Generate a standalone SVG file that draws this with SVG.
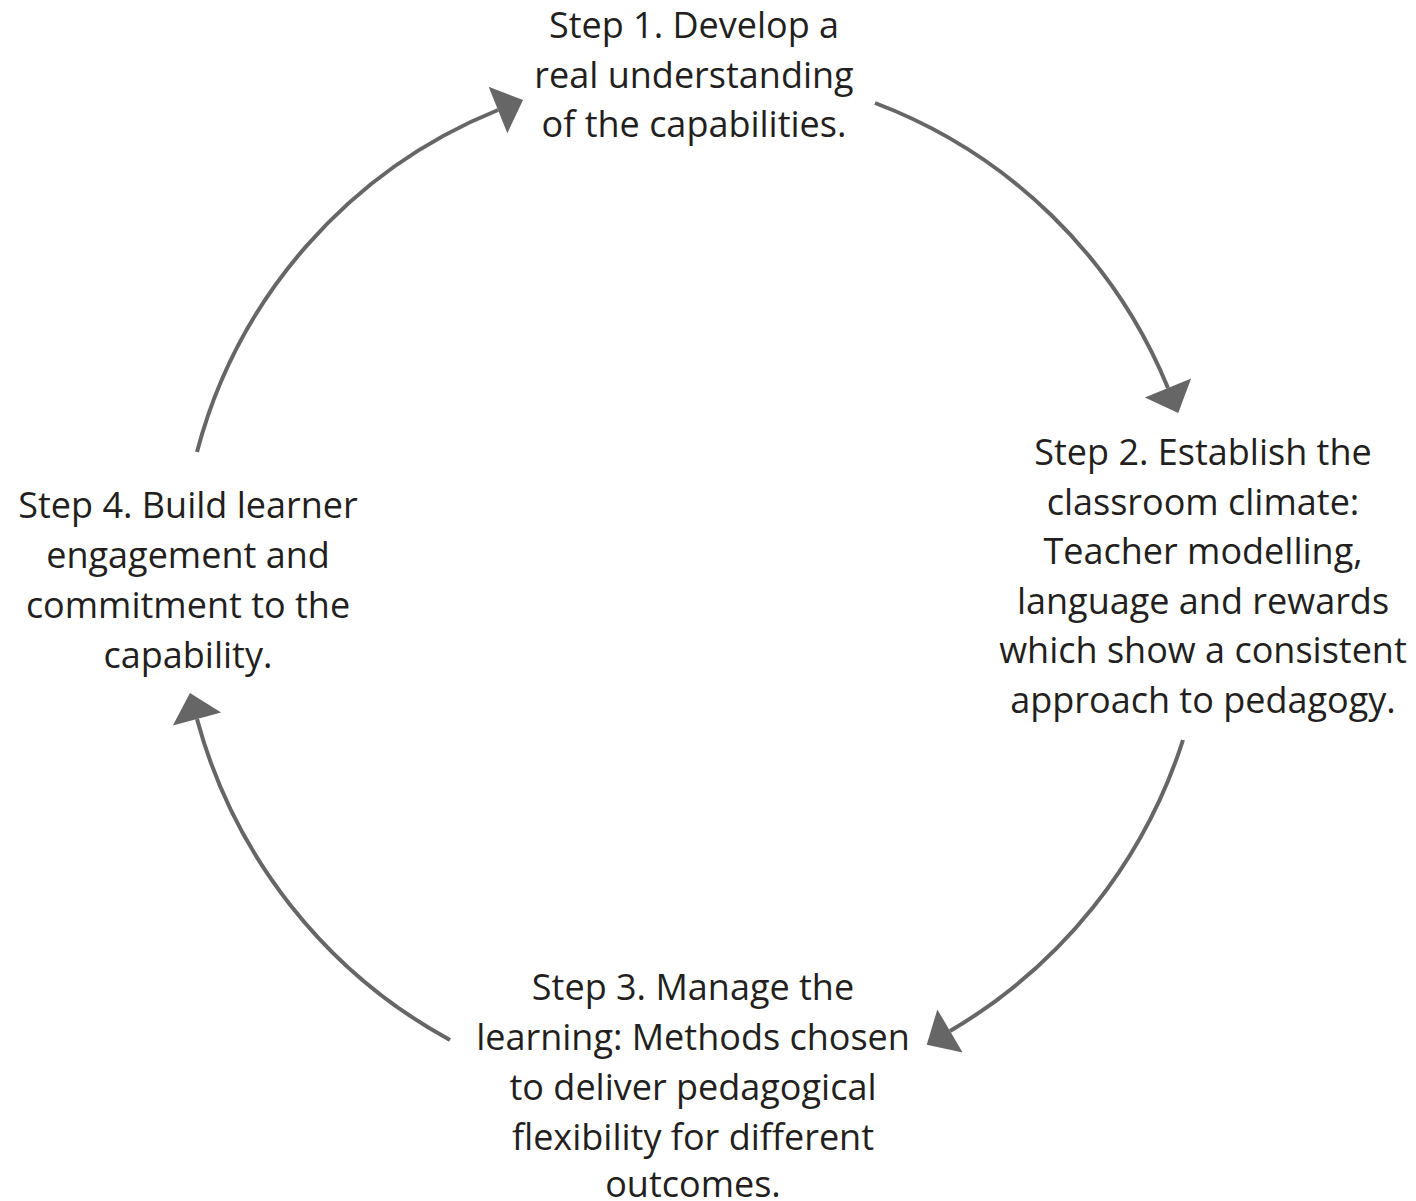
<svg xmlns="http://www.w3.org/2000/svg" width="1416" height="1201" viewBox="0 0 1416 1201">
  <style>
    .label { font-family: "Open Sans", "Noto Sans", "Liberation Sans", sans-serif; font-size: 36px; fill: #231f20; text-anchor: middle; }
    .arc { fill: none; stroke: #666666; stroke-width: 4; }
  </style>
  <defs>
    <marker id="head" markerUnits="userSpaceOnUse" viewBox="0 -26 28 52" refX="0" refY="0" markerWidth="28" markerHeight="52" orient="auto" overflow="visible">
      <path d="M0,-25 L27,0 L0,25 Z" fill="#666666"/>
    </marker>
  </defs>
  <rect width="1416" height="1201" fill="#ffffff"/>

  <!-- cycle connectors, clockwise -->
  <g id="connectors">
    <path class="arc" d="M197,452 A508 508 0 0 1 498,110" marker-end="url(#head)"/>
    <path class="arc" d="M875,103 A512 512 0 0 1 1168,388" marker-end="url(#head)"/>
    <path class="arc" d="M1183,740 A522 522 0 0 1 950,1031" marker-end="url(#head)"/>
    <path class="arc" d="M450,1040 A520 520 0 0 1 197,719" marker-end="url(#head)"/>
  </g>

  <g id="step1">
    <text class="label" x="694" y="38">Step 1. Develop a</text>
    <text class="label" x="694" y="88">real understanding</text>
    <text class="label" x="694" y="137">of the capabilities.</text>
  </g>

  <g id="step2">
    <text class="label" x="1203" y="465">Step 2. Establish the</text>
    <text class="label" x="1203" y="515">classroom climate:</text>
    <text class="label" x="1203" y="564">Teacher modelling,</text>
    <text class="label" x="1203" y="614">language and rewards</text>
    <text class="label" x="1203" y="663">which show a consistent</text>
    <text class="label" x="1203" y="713">approach to pedagogy.</text>
  </g>

  <g id="step3">
    <text class="label" x="693" y="1000">Step 3. Manage the</text>
    <text class="label" x="693" y="1050">learning: Methods chosen</text>
    <text class="label" x="693" y="1100">to deliver pedagogical</text>
    <text class="label" x="693" y="1150">flexibility for different</text>
    <text class="label" x="693" y="1197">outcomes.</text>
  </g>

  <g id="step4">
    <text class="label" x="188" y="518">Step 4. Build learner</text>
    <text class="label" x="188" y="568">engagement and</text>
    <text class="label" x="188" y="618">commitment to the</text>
    <text class="label" x="188" y="668">capability.</text>
  </g>
</svg>
